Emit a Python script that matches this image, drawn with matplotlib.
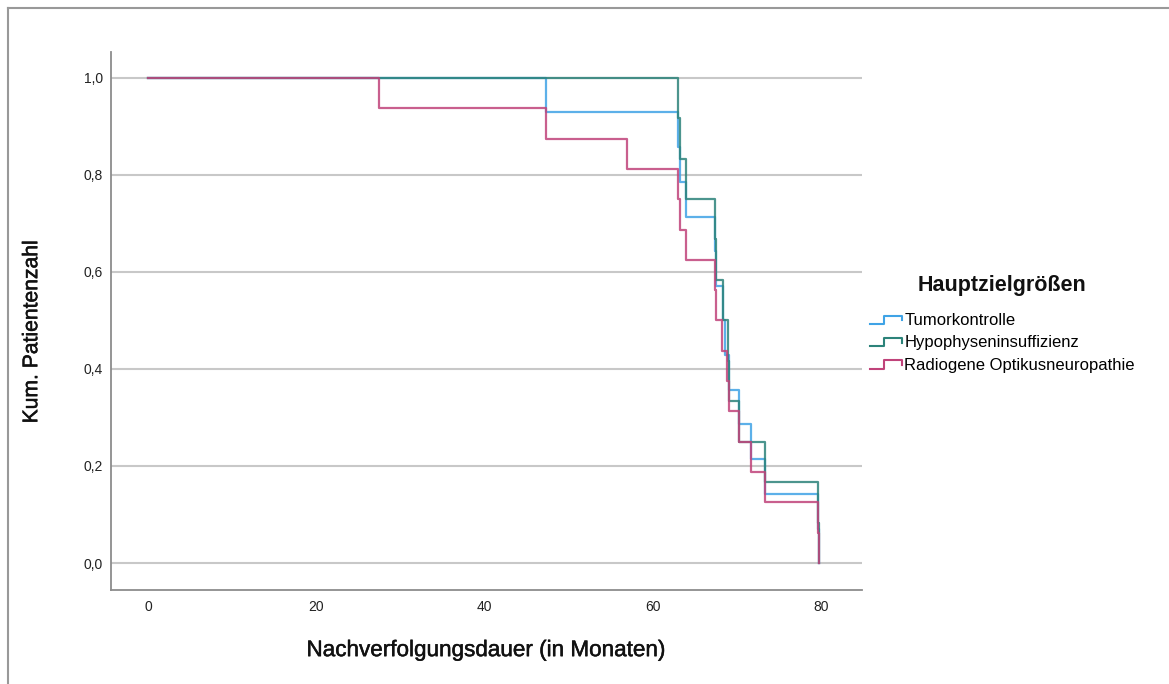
import numpy as np
import matplotlib
matplotlib.use("Agg")
import matplotlib.pyplot as plt
import matplotlib.patheffects as pe
from matplotlib.lines import Line2D
from matplotlib.legend_handler import HandlerBase

plt.rcParams['font.family'] = ['Liberation Sans', 'DejaVu Sans']

# Kaplan-Meier steps (time in months, cumulative share after the event)
tumor_t = [0, 47.3, 63.0, 63.25, 64.0, 67.35, 67.55, 68.3, 68.6, 69.1, 70.2, 71.7, 73.3, 79.6, 79.8]
tumor_s = [1.0, 0.929, 0.857, 0.786, 0.714, 0.643, 0.571, 0.5, 0.429, 0.357, 0.286, 0.214, 0.143, 0.071, 0.0]

hypo_t = [0, 63.0, 63.25, 64.0, 67.35, 67.55, 68.3, 68.9, 69.1, 70.2, 73.3, 79.6, 79.8]
hypo_s = [1.0, 0.917, 0.833, 0.75, 0.667, 0.583, 0.5, 0.417, 0.333, 0.25, 0.167, 0.083, 0.0]

opt_t = [0, 27.4, 47.3, 56.9, 63.0, 63.25, 64.0, 67.35, 67.55, 68.25, 68.85, 69.0, 70.2, 71.7, 73.3, 79.6, 79.8]
opt_s = [1.0, 0.9375, 0.875, 0.8125, 0.75, 0.6875, 0.625, 0.5625, 0.5, 0.4375, 0.375, 0.3125, 0.25, 0.1875, 0.125, 0.0625, 0.0]

labels = ["Tumorkontrolle", "Hypophyseninsuffizienz", "Radiogene Optikusneuropathie"]
colors = ["#3fa3e6", "#2c837a", "#c0437a"]
xticks = [0, 20, 40, 60, 80]
yticks = [0.0, 0.2, 0.4, 0.6, 0.8, 1.0]


class StepHandler(HandlerBase):
    def create_artists(self, legend, orig, xd, yd, w, h, fs, trans):
        xs = [xd, xd + w * 0.45, xd + w * 0.45, xd + w, xd + w]
        ys = [yd + h * 0.1, yd + h * 0.1, yd + h * 0.8, yd + h * 0.8, yd + h * 0.4]
        ln = Line2D(xs, ys, color=orig.get_color(), lw=1.5, transform=trans)
        return [ln]


fig = plt.figure(figsize=(11.69, 6.84), dpi=100)
ax = fig.add_axes([0.095, 0.1374, 0.6426, 0.7866])

series = [(tumor_t, tumor_s), (hypo_t, hypo_s), (opt_t, opt_s)]
handles = []
for (t, s), c, lab in zip(series, colors, labels):
    h, = ax.plot(t, s, drawstyle='steps-post', color=c, lw=1.6, alpha=0.85, label=lab)
    handles.append(h)

ax.set_xlim(-4.4, 84.9)
ax.set_ylim(-0.0557, 1.0536)
ax.set_xticks(xticks)
ax.set_yticks(yticks)
ax.set_yticklabels([f"{v:.1f}".replace('.', ',') for v in yticks])
ax.tick_params(length=0, labelsize=10, colors='#222222')
ax.tick_params(axis='y', pad=6)
ax.tick_params(axis='x', pad=7)
ax.grid(axis='y', color='#c8c8c8', lw=1.5)
ax.set_axisbelow(True)
for side in ['top', 'right']:
    ax.spines[side].set_visible(False)
for side in ['left', 'bottom']:
    ax.spines[side].set_color('#8c8c8c')
    ax.spines[side].set_linewidth(1.3)

heavy = [pe.withStroke(linewidth=0.35, foreground='#111111')]
ax.set_xlabel("Nachverfolgungsdauer (in Monaten)", fontsize=16.2, labelpad=19,
              color='#111111', path_effects=heavy)
ax.set_ylabel("Kum. Patientenzahl", fontsize=15.2, color='#111111', path_effects=heavy)
ax.yaxis.set_label_coords(-0.093, 0.48)

fig.text(1002 / 1169, 1 - 286 / 684, "Hauptzielgrößen", fontsize=15.5, fontweight='bold',
         ha='center', va='center', color='#111111')
leg = fig.legend(handles=handles, labels=labels, loc='upper left',
                 bbox_to_anchor=(870 / 1169, 1 - 313 / 684), frameon=False,
                 fontsize=12, handler_map={Line2D: StepHandler()},
                 borderpad=0, borderaxespad=0,
                 handlelength=1.9, handletextpad=0.15, labelspacing=0.44)

# outer picture frame (top and left)
fig.add_artist(Line2D([8 / 1169, 1], [1 - 8 / 684, 1 - 8 / 684], color='#999999', lw=1.5, transform=fig.transFigure))
fig.add_artist(Line2D([8 / 1169, 8 / 1169], [0, 1 - 8 / 684], color='#999999', lw=1.5, transform=fig.transFigure))

fig.savefig("out.png", dpi=100)
